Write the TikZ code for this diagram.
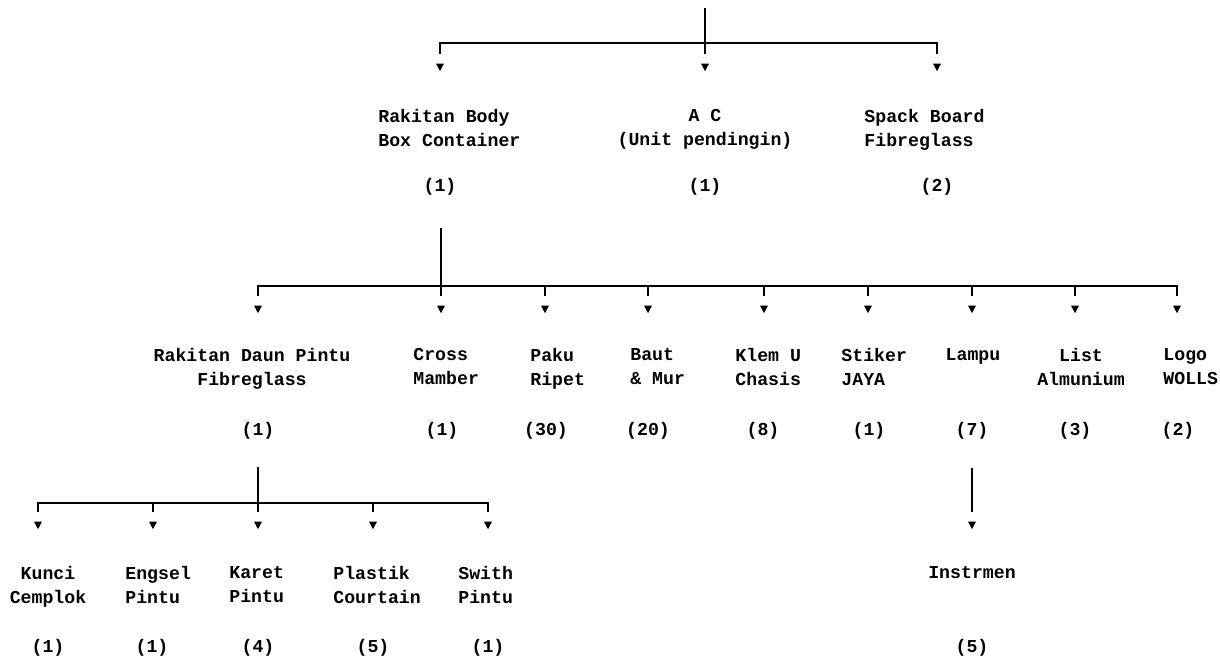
\documentclass[tikz,border=0pt]{standalone}
\usepackage{fontspec}
\setmainfont{Liberation Mono}
\usetikzlibrary{shapes.geometric}

\newlength{\du}
\setlength{\du}{0.5pt}
\definecolor{dialinecolor}{rgb}{0.000000, 0.000000, 0.000000}

\tikzset{
  komp/.style={inner sep=0pt, text=dialinecolor,
    font=\fontsize{9.1}{12}\selectfont\bfseries},
  kiri/.style={komp, anchor=north west, align=left},
  tengah/.style={komp, anchor=north, align=center},
  jml/.style={komp, anchor=center},
  panah/.style={isosceles triangle, shape border rotate=-90,
    isosceles triangle stretches, fill=dialinecolor, draw=none,
    inner sep=0pt, minimum width=4pt, minimum height=3.8pt},
  garis/.style={draw=dialinecolor, line width=1pt},
  batang/.style={draw=dialinecolor, line width=1.35pt},
}

\begin{document}
\begin{tikzpicture}[x=\du,y=-\du]
\useasboundingbox (0,0) rectangle (1220,658);
% tingkat 1
\coordinate (akar) at (705,8);
\coordinate (j0) at (705,43);
\node[panah] (p1) at (440,66) {};
\node[panah] (p2) at (705,66) {};
\node[panah] (p3) at (937,66) {};
\draw[batang] (akar) -- (j0);
\draw[garis] ([yshift=4.5pt]p1.north) |- (j0) -| ([yshift=4.5pt]p3.north);
\draw[garis] (j0) -- ([yshift=4.5pt]p2.north);
\node[kiri] (body) at (378,109) {Rakitan Body\\Box Container};
\node[tengah] (ac) at (705,109) {A C\\(Unit pendingin)};
\node[kiri] (spack) at (864,109) {Spack Board\\Fibreglass};
\node[jml] (nbody) at (440,187) {(1)};
\node[jml] (nac) at (705,187) {(1)};
\node[jml] (nspack) at (937,187) {(2)};
% tingkat 2
\coordinate (s1) at (441,228);
\coordinate (j1) at (441,286);
\node[panah] (q1) at (258,308) {};
\node[panah] (q2) at (441,308) {};
\node[panah] (q3) at (545,308) {};
\node[panah] (q4) at (648,308) {};
\node[panah] (q5) at (764,308) {};
\node[panah] (q6) at (868,308) {};
\node[panah] (q7) at (972,308) {};
\node[panah] (q8) at (1075,308) {};
\node[panah] (q9) at (1177,308) {};
\draw[batang] (s1) -- (j1);
\draw[garis] ([yshift=4.5pt]q1.north) |- (j1) -| ([yshift=4.5pt]q9.north);
\draw[garis] (j1) -- ([yshift=4.5pt]q2.north);
\draw[garis] (j1 -| q3) -- ([yshift=4.5pt]q3.north);
\draw[garis] (j1 -| q4) -- ([yshift=4.5pt]q4.north);
\draw[garis] (j1 -| q5) -- ([yshift=4.5pt]q5.north);
\draw[garis] (j1 -| q6) -- ([yshift=4.5pt]q6.north);
\draw[garis] (j1 -| q7) -- ([yshift=4.5pt]q7.north);
\draw[garis] (j1 -| q8) -- ([yshift=4.5pt]q8.north);
\node[tengah] (daun) at (252,348) {Rakitan Daun Pintu\\Fibreglass};
\node[kiri] (cross) at (413,348) {Cross\\Mamber};
\node[kiri] (paku) at (530,348) {Paku\\Ripet};
\node[kiri] (baut) at (630,348) {Baut\\\& Mur};
\node[kiri] (klem) at (735,348) {Klem U\\Chasis};
\node[kiri] (stiker) at (841,348) {Stiker\\JAYA};
\node[tengah] (lampu) at (973,348) {Lampu};
\node[tengah] (list) at (1081,348) {List\\Almunium};
\node[kiri] (logo) at (1163,348) {Logo\\WOLLS};
\node[jml] (ndaun) at (258,431) {(1)};
\node[jml] (ncross) at (442,431) {(1)};
\node[jml] (npaku) at (546,431) {(30)};
\node[jml] (nbaut) at (648,431) {(20)};
\node[jml] (nklem) at (763,431) {(8)};
\node[jml] (nstiker) at (869,431) {(1)};
\node[jml] (nlampu) at (972,431) {(7)};
\node[jml] (nlist) at (1075,431) {(3)};
\node[jml] (nlogo) at (1178,431) {(2)};
% tingkat 3
\coordinate (s2) at (258,467);
\coordinate (j2) at (258,503);
\node[panah] (r1) at (38,524) {};
\node[panah] (r2) at (153,524) {};
\node[panah] (r3) at (258,524) {};
\node[panah] (r4) at (373,524) {};
\node[panah] (r5) at (488,524) {};
\draw[batang] (s2) -- (j2);
\draw[garis] ([yshift=4.5pt]r1.north) |- (j2) -| ([yshift=4.5pt]r5.north);
\draw[garis] (j2) -- ([yshift=4.5pt]r3.north);
\draw[garis] (j2 -| r2) -- ([yshift=4.5pt]r2.north);
\draw[garis] (j2 -| r4) -- ([yshift=4.5pt]r4.north);
\coordinate (s3) at (972,468);
\node[panah] (r6) at (972,524) {};
\draw[batang] (s3) -- ([yshift=4.5pt]r6.north);
\node[tengah] (kunci) at (48,566) {Kunci\\Cemplok};
\node[kiri] (engsel) at (125,566) {Engsel\\Pintu};
\node[kiri] (karet) at (229,566) {Karet\\Pintu};
\node[kiri] (plastik) at (333,566) {Plastik\\Courtain};
\node[kiri] (swith) at (458,566) {Swith\\Pintu};
\node[tengah] (instr) at (972,566) {Instrmen};
\node[jml] (nkunci) at (48,648) {(1)};
\node[jml] (nengsel) at (152,648) {(1)};
\node[jml] (nkaret) at (258,648) {(4)};
\node[jml] (nplastik) at (373,648) {(5)};
\node[jml] (nswith) at (488,648) {(1)};
\node[jml] (ninstr) at (972,648) {(5)};
\end{tikzpicture}
\end{document}
